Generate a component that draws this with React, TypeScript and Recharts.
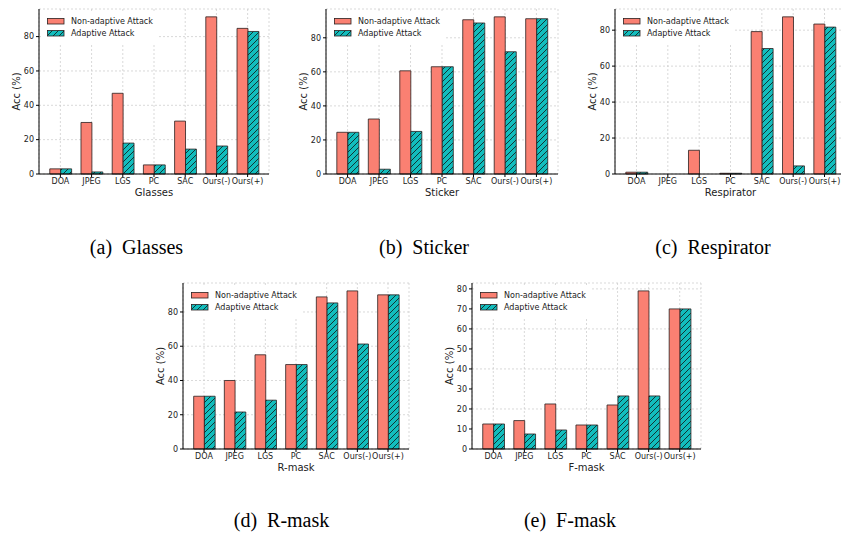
import { Bar, BarChart, CartesianGrid, Legend, XAxis, YAxis } from "recharts";

const categories = ["DOA", "JPEG", "LGS", "PC", "SAC", "Ours(-)", "Ours(+)"];
const ticksTop = [0, 20, 40, 60, 80];
const ticksFmask = [0, 10, 20, 30, 40, 50, 60, 70, 80];

const glassesNon = [3, 30, 47, 5.3, 30.8, 91.5, 84.8];
const glassesAdp = [3, 1.2, 18, 5.3, 14.5, 16.3, 83];
const stickerNon = [24.5, 32.3, 60.6, 63, 90.6, 92.3, 91.2];
const stickerAdp = [24.5, 2.8, 25, 63, 88.7, 71.8, 91.2];
const respNon = [1, 0, 13.2, 0.4, 79.2, 87.4, 83.4];
const respAdp = [1, 0, 0, 0.4, 69.8, 4.5, 81.7];
const rmaskNon = [30.8, 40, 55, 49.3, 88.8, 92.3, 90];
const rmaskAdp = [30.8, 21.6, 28.5, 49.3, 85.3, 61.3, 90];
const fmaskNon = [12.5, 14.2, 22.5, 12, 22, 79, 70];
const fmaskAdp = [12.5, 7.5, 9.5, 12, 26.5, 26.5, 70];

const SALMON = "#fa8072";
const CYAN = "#12bdbd";
const EDGE = "#2a1f1f";
const FONT = "DejaVu Sans";

function rows(non: number[], adp: number[]) {
  return categories.map((name, i) => ({ name, non: non[i], adp: adp[i] }));
}

function Hatch({ id }: { id: string }) {
  return (
    <pattern id={id} patternUnits="userSpaceOnUse" width={6} height={6}>
      <rect width={6} height={6} fill={CYAN} />
      <path d="M-1,1 L1,-1 M0,6 L6,0 M5,7 L7,5" stroke="#111" strokeWidth={0.8} />
    </pattern>
  );
}

function LegendBox({ id }: { id: string }) {
  const item = (label: string, fill: string) => (
    <div style={{ display: "flex", alignItems: "center", height: 12.5 }}>
      <svg width={18} height={7} style={{ display: "block" }}>
        <rect x={0.5} y={0.5} width={16.5} height={5.5} fill={fill} stroke={EDGE} strokeWidth={0.8} />
      </svg>
      <span style={{ marginLeft: 6 }}>{label}</span>
    </div>
  );
  return (
    <div style={{ background: "#fff", padding: "3px 4px", fontFamily: FONT, fontSize: 8, color: "#222", whiteSpace: "nowrap" }}>
      {item("Non-adaptive Attack", SALMON)}
      {item("Adaptive Attack", `url(#lg-${id})`)}
      <svg width={0} height={0} style={{ position: "absolute" }}>
        <defs>
          <Hatch id={`lg-${id}`} />
        </defs>
      </svg>
    </div>
  );
}

type PanelProps = {
  id: string;
  title: string;
  non: number[];
  adp: number[];
  ticks: number[];
  left: number;
  top: number;
  plotW: number;
  plotH: number;
};

function Panel({ id, title, non, adp, ticks, left, top, plotW, plotH }: PanelProps) {
  const ML = 40;
  const MT = 5;
  const MR = 5;
  const XH = 34;
  const slot = plotW / 7.37;
  const pad = (plotW - 7 * slot) / 2;
  const yMax = Math.max(...non, ...adp) * 1.05;
  const tickStyle = { fontSize: 8, fill: "#222", fontFamily: FONT };

  return (
    <div style={{ position: "absolute", left: left - ML, top: top - MT }}>
      <BarChart
        width={plotW + ML + MR}
        height={plotH + MT + XH}
        data={rows(non, adp)}
        margin={{ top: MT, right: MR, left: 0, bottom: 0 }}
        barSize={slot * 0.35}
        barGap={0}
      >
        <defs>
          <Hatch id={`h-${id}`} />
        </defs>
        <CartesianGrid stroke="#c8c8c8" strokeDasharray="2 2" strokeWidth={0.7} />
        <XAxis
          dataKey="name"
          padding={{ left: pad, right: pad }}
          tick={tickStyle}
          tickSize={3}
          tickMargin={1}
          interval={0}
          height={XH}
          stroke="#000"
          label={{
            content: () => (
              <text x={ML + plotW / 2} y={MT + plotH + 21.5} textAnchor="middle" fontSize={10} fill="#222" fontFamily={FONT}>
                {title}
              </text>
            ),
          }}
        />
        <XAxis xAxisId="top" dataKey="name" orientation="top" height={0} tick={false} tickLine={false} stroke="#000" padding={{ left: pad, right: pad }} />
        <YAxis
          domain={[0, yMax]}
          ticks={ticks}
          width={ML}
          tick={tickStyle}
          tickSize={3}
          tickMargin={2}
          stroke="#000"
          label={{
            content: () => (
              <text
                x={17.5}
                y={MT + plotH / 2}
                transform={`rotate(-90, 17.5, ${MT + plotH / 2})`}
                textAnchor="middle"
                dominantBaseline="central"
                fontSize={10}
                fill="#222"
                fontFamily={FONT}
              >
                Acc (%)
              </text>
            ),
          }}
        />
        <YAxis yAxisId="right" orientation="right" domain={[0, yMax]} width={0} tick={false} tickLine={false} stroke="#000" />
        <Legend
          layout="vertical"
          align="center"
          verticalAlign="middle"
          wrapperStyle={{ top: MT + 3, left: ML + 4, width: "auto" }}
          content={() => <LegendBox id={id} />}
        />
        <Bar dataKey="non" fill={SALMON} stroke={EDGE} strokeWidth={0.8} isAnimationActive={false} />
        <Bar dataKey="adp" fill={`url(#h-${id})`} stroke={EDGE} strokeWidth={0.8} isAnimationActive={false} />
      </BarChart>
    </div>
  );
}

const captions = [
  { tag: "(a)", name: "Glasses", x: 136.5, y: 254 },
  { tag: "(b)", name: "Sticker", x: 424, y: 254 },
  { tag: "(c)", name: "Respirator", x: 713, y: 254 },
  { tag: "(d)", name: "R-mask", x: 281.5, y: 527 },
  { tag: "(e)", name: "F-mask", x: 570, y: 527 },
];

export default function App() {
  return (
    <div style={{ position: "absolute", left: 0, top: 0, width: 841, height: 537, overflow: "hidden", background: "#fff" }}>
      <Panel id="a" title="Glasses" non={glassesNon} adp={glassesAdp} ticks={ticksTop} left={39} top={9} plotW={230} plotH={165} />
      <Panel id="b" title="Sticker" non={stickerNon} adp={stickerAdp} ticks={ticksTop} left={326} top={9} plotW={232} plotH={165} />
      <Panel id="c" title="Respirator" non={respNon} adp={respAdp} ticks={ticksTop} left={615} top={9} plotW={231} plotH={165} />
      <Panel id="d" title="R-mask" non={rmaskNon} adp={rmaskAdp} ticks={ticksTop} left={183} top={283} plotW={226} plotH={166} />
      <Panel id="e" title="F-mask" non={fmaskNon} adp={fmaskAdp} ticks={ticksFmask} left={472} top={283} plotW={229} plotH={166} />
      <svg width={841} height={537} style={{ position: "absolute", left: 0, top: 0, pointerEvents: "none" }}>
        {captions.map((c) => (
          <text key={c.tag} x={c.x} y={c.y} textAnchor="middle" fontSize={20} fontFamily="Liberation Serif" fill="#000">
            {c.tag}
            <tspan dx={10}>{c.name}</tspan>
          </text>
        ))}
      </svg>
    </div>
  );
}
